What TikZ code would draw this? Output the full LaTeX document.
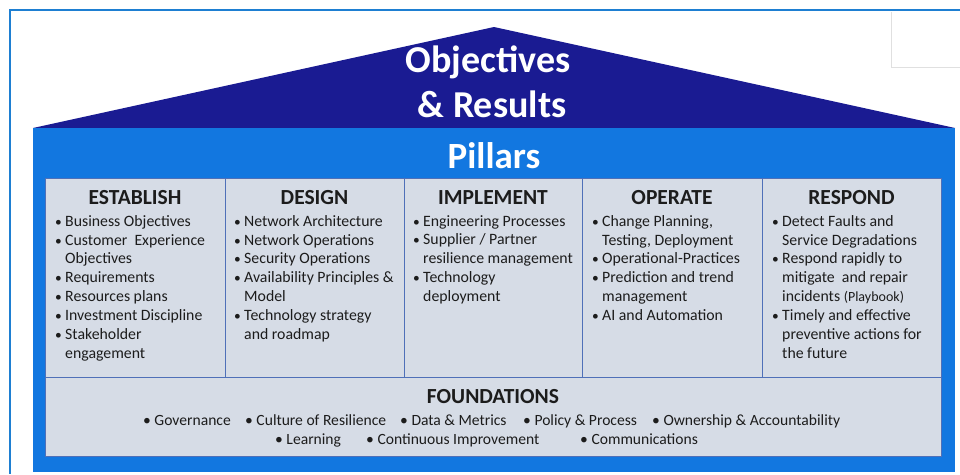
\documentclass[tikz,border=0pt]{standalone}
\usepackage{fontspec}
\setmainfont{Carlito}
\usetikzlibrary{positioning}
\definecolor{RoofNavy}{HTML}{1A1B92}
\definecolor{HouseBlue}{HTML}{1277E0}
\definecolor{PillarFill}{HTML}{D6DCE6}
\definecolor{PillarEdge}{HTML}{4F70B8}
\definecolor{FrameBlue}{HTML}{1E7FD2}
\definecolor{InkDark}{HTML}{1C1C1C}

\tikzset{
  pillar/.style={draw=PillarEdge, fill=PillarFill, line width=1pt},
  rooftext/.style={font=\bfseries\fontsize{38}{42}\selectfont, text=white, anchor=base, inner sep=0pt},
  pillarhead/.style={font=\bfseries\fontsize{21.5}{24}\selectfont, text=InkDark, anchor=base, inner sep=0pt},
  pillarbody/.style={font=\fontsize{15.8}{18.9}\selectfont, text=InkDark, align=left, anchor=north west, inner sep=0pt},
  founditem/.style={font=\fontsize{15.6}{18}\selectfont, text=InkDark, anchor=base west, inner sep=0pt}
}
\newcommand{\itm}{\makebox[9pt][l]{\hspace{-1pt}\scalebox{0.85}{\textbullet}}}
\newcommand{\cnt}{\hspace*{9pt}}

\begin{document}
\begin{tikzpicture}[x=1pt, y=-1pt]
        % Parameters
        \def\HouseL{33}
        \def\HouseR{955}
        \def\Eaves{128}
        \def\Apex{27}
        \def\PillarTop{178}
        \def\PillarBot{377}
        \def\FloorBot{456}

        \useasboundingbox (0,0) rectangle (960,474);

        % 1. Slide frame
        \draw[FrameBlue, line width=1.5pt] (960,10) -- (10,10) -- (10,474);
        \draw[black!12, line width=0.6pt] (891,12) -- (891,67) -- (960,67);

        % 2. Roof
        \fill[RoofNavy] (\HouseL,\Eaves) -- (494,\Apex) -- (\HouseR,\Eaves) -- cycle;
        \node[rooftext] (objectives) at (488,72) {Objectives};
        \node[rooftext] (results) at (492,117) {\& Results};

        % 3. House body
        \fill[HouseBlue] (\HouseL,\Eaves) rectangle (\HouseR,472);
        \node[rooftext, font=\bfseries\fontsize{37}{40}\selectfont] (pillars) at (494,168) {Pillars};

        % 4. The five pillars
        \foreach \l/\r/\name/\title in {45/225/establish/ESTABLISH, 225/404/design/DESIGN,
                404/582/implement/IMPLEMENT, 582/762/operate/OPERATE, 762/941/respond/RESPOND} {
            \draw[pillar] (\l,\PillarTop) rectangle (\r,\PillarBot);
            \node[pillarhead] (\name) at ({(\l+\r)/2},204) {\title};
        }

        \node[pillarbody] (establishlist) at (56,215) {
            \itm Business Objectives\\
            \itm Customer\ \ Experience\\
            \cnt Objectives\\
            \itm Requirements\\
            \itm Resources plans\\
            \itm Investment Discipline\\
            \itm Stakeholder\\
            \cnt engagement
        };
        \node[pillarbody] (designlist) at (235,215) {
            \itm Network Architecture\\
            \itm Network Operations\\
            \itm Security Operations\\
            \itm Availability Principles \&\\
            \cnt Model\\
            \itm Technology strategy\\
            \cnt and roadmap
        };
        \node[pillarbody] (implementlist) at (414,215) {
            \itm Engineering Processes\\
            \itm Supplier / Partner\\
            \cnt resilience management\\
            \itm Technology\\
            \cnt deployment
        };
        \node[pillarbody] (operatelist) at (593,215) {
            \itm Change Planning,\\
            \cnt Testing, Deployment\\
            \itm Operational-Practices\\
            \itm Prediction and trend\\
            \cnt management\\
            \itm AI and Automation
        };
        \node[pillarbody] (respondlist) at (773,215) {
            \itm Detect Faults and\\
            \cnt Service Degradations\\
            \itm Respond rapidly to\\
            \cnt mitigate\ \ and repair\\
            \cnt incidents {\fontsize{14}{18.9}\selectfont(Playbook)}\\
            \itm Timely and effective\\
            \cnt preventive actions for\\
            \cnt the future
        };

        % 5. Foundations
        \draw[pillar] (45,\PillarBot) rectangle (941,\FloorBot);
        \node[pillarhead] (foundations) at (493,403) {FOUNDATIONS};

        \foreach \x/\name/\txt in {143/governance/Governance, 245/culture/Culture of Resilience,
                400/data/{Data \& Metrics}, 523/policy/{Policy \& Process},
                652/ownership/{Ownership \& Accountability}} {
            \node[founditem] (\name) at (\x,425) {\textbullet\ \txt};
        }
        \foreach \x/\name/\txt in {275/learning/Learning, 366/improvement/Continuous Improvement,
                580/communications/Communications} {
            \node[founditem] (\name) at (\x,444) {\textbullet\ \txt};
        }

    \end{tikzpicture}
\end{document}
